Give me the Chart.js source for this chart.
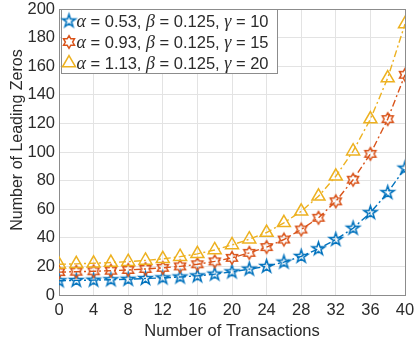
<!DOCTYPE html>
<html>
<head>
<meta charset="utf-8">
<script src="https://cdn.jsdelivr.net/npm/chart.js@4/dist/chart.umd.min.js"></script>
<style>
  html, body { margin: 0; padding: 0; background: #fff; }
</style>
</head>
<body>
<canvas id="chart" width="416" height="349"></canvas>
<script>
// Data
const transactions = [0, 2, 4, 6, 8, 10, 12, 14, 16, 18, 20, 22, 24, 26, 28, 30, 32, 34, 36, 38, 40];
const zerosA = [10, 10.2, 10.4, 10.7, 11, 11.5, 12, 12.6, 13.4, 14.6, 16.2, 18.1, 20, 23, 27, 32.3, 38.8, 46.7, 57.6, 71.6, 88.7];
const zerosB = [16, 16.3, 16.6, 17, 17.5, 18.2, 19, 20, 21.5, 23.5, 26, 29.5, 33.5, 38.8, 45.8, 54, 65.5, 80.6, 98.7, 123, 154];
const zerosC = [21.5, 21.8, 22.2, 22.7, 23.3, 24.2, 25.3, 26.8, 28.8, 31.5, 35, 39, 43.7, 50.5, 58.5, 69, 83, 100.6, 123, 151.7, 189.5];

const alphas = ['0.53', '0.93', '1.13'];
const betas = ['0.125', '0.125', '0.125'];
const gammas = ['10', '15', '20'];

const xTitle = 'Number of Transactions';
const yTitle = 'Number of Leading Zeros';

const colors = ['#0072BD', '#D95319', '#EDB120'];
const textColor = '#2b2b2b';
const fontFamily = "'Liberation Sans', Arial, sans-serif";

// markers
function starMarker(points, outerR, innerR, color, lw) {
  const size = Math.ceil(2 * outerR + lw * 2 + 4);
  const c = document.createElement('canvas');
  c.width = size; c.height = size;
  const g = c.getContext('2d');
  g.translate(size / 2, size / 2);
  g.beginPath();
  for (let i = 0; i < points * 2; i++) {
    const r = i % 2 ? innerR : outerR;
    const a = -Math.PI / 2 + i * Math.PI / points;
    g.lineTo(r * Math.cos(a), r * Math.sin(a));
  }
  g.closePath();
  g.strokeStyle = color;
  g.lineWidth = lw;
  g.stroke();
  return c;
}

const pentagram = starMarker(5, 6.8, 6.8 * 0.382, colors[0], 1.5);
const hexagram = starMarker(6, 6.3, 6.3 / Math.sqrt(3), colors[1], 1.5);
const markerStyles = [pentagram, hexagram, 'triangle'];

function toPoints(ys) {
  return transactions.map((x, i) => ({ x: x, y: ys[i] }));
}

const series = [zerosA, zerosB, zerosC];
const datasets = series.map((ys, i) => ({
  data: toPoints(ys),
  borderColor: colors[i],
  backgroundColor: 'rgba(0,0,0,0)',
  borderWidth: 1.4,
  borderDash: [7, 3, 2, 3],
  pointStyle: markerStyles[i],
  pointRadius: 7.5,
  pointBorderWidth: 1.5,
  pointBorderColor: colors[i],
  pointBackgroundColor: 'rgba(0,0,0,0)',
  order: 2 - i,
  tension: 0
}));

// axes box + y title
const boxPlugin = {
  id: 'box',
  beforeDatasetsDraw(chart) {
    const { ctx, chartArea: a } = chart;
    ctx.save();
    ctx.strokeStyle = '#8c8c8c';
    ctx.lineWidth = 1;
    ctx.strokeRect(Math.round(a.left) + 0.5, Math.round(a.top) + 0.5,
      Math.round(a.right - a.left), Math.round(a.bottom - a.top));
    ctx.translate(17.5, 140);
    ctx.rotate(-Math.PI / 2);
    ctx.font = '16px ' + fontFamily;
    ctx.fillStyle = textColor;
    ctx.textAlign = 'center';
    ctx.textBaseline = 'middle';
    ctx.fillText(yTitle, 0, 0);
    ctx.restore();
  }
};

// legend in the upper-left corner
const legendPlugin = {
  id: 'cornerLegend',
  afterDraw(chart) {
    const ctx = chart.ctx;
    const a = chart.chartArea;
    const bx = Math.round(a.left) + 2.5, by = Math.round(a.top) + 0.5;
    const bw = 216, bh = 64;
    ctx.save();
    ctx.fillStyle = '#fff';
    ctx.fillRect(bx, by, bw, bh);
    ctx.strokeStyle = '#8c8c8c';
    ctx.lineWidth = 1;
    ctx.strokeRect(bx, by, bw, bh);
    const rowY = [by + 11.5, by + 32.5, by + 53.5];
    const textFont = '16.5px ' + fontFamily;
    const greekFont = 'italic 18px "Liberation Serif", "DejaVu Serif", serif';
    for (let i = 0; i < 3; i++) {
      const y = rowY[i];
      const mx = bx + 7.5;
      if (markerStyles[i] === 'triangle') {
        const r = 7.5;
        ctx.strokeStyle = colors[i];
        ctx.lineWidth = 1.5;
        ctx.beginPath();
        ctx.moveTo(mx, y - r);
        ctx.lineTo(mx + r * Math.sin(2 * Math.PI / 3), y - r * Math.cos(2 * Math.PI / 3));
        ctx.lineTo(mx + r * Math.sin(4 * Math.PI / 3), y - r * Math.cos(4 * Math.PI / 3));
        ctx.closePath();
        ctx.stroke();
      } else {
        const img = markerStyles[i];
        ctx.drawImage(img, mx - img.width / 2, y - img.height / 2);
      }
      const parts = [
        ['\u03b1', greekFont], [' = ' + alphas[i] + ', ', textFont],
        ['\u03b2', greekFont], [' = ' + betas[i] + ', ', textFont],
        ['\u03b3', greekFont], [' = ' + gammas[i], textFont]
      ];
      let x = bx + 15;
      ctx.fillStyle = textColor;
      ctx.textBaseline = 'middle';
      ctx.textAlign = 'left';
      parts.forEach(p => {
        ctx.font = p[1];
        ctx.fillText(p[0], x, y + 1);
        x += ctx.measureText(p[0]).width;
      });
    }
    ctx.restore();
  }
};

Chart.defaults.font.family = fontFamily;
Chart.defaults.color = textColor;

new Chart(document.getElementById('chart').getContext('2d'), {
  type: 'line',
  data: { datasets: datasets },
  options: {
    responsive: false,
    animation: false,
    layout: { padding: { left: 0, right: 11, top: 8, bottom: 0 } },
    plugins: { legend: { display: false }, tooltip: { enabled: false } },
    scales: {
      x: {
        type: 'linear',
        min: 0, max: 40,
        ticks: { stepSize: 4, padding: 6, font: { size: 16.5 }, color: textColor },
        grid: { color: '#e3e3e3', drawTicks: false },
        border: { display: false },
        title: { display: true, text: xTitle, font: { size: 16.5 }, color: textColor, padding: { top: 0, bottom: 7.5 } },
        afterFit(scale) { scale.height = 54; scale.paddingLeft = 0; scale.paddingRight = 0; }
      },
      y: {
        min: 0, max: 200,
        ticks: { stepSize: 20, padding: 4, font: { size: 16.5 }, color: textColor },
        grid: { color: '#e3e3e3', drawTicks: false },
        border: { display: false },
        afterFit(scale) { scale.width = 59; scale.paddingTop = 0; scale.paddingBottom = 0; }
      }
    }
  },
  plugins: [boxPlugin, legendPlugin]
});
</script>
</body>
</html>
